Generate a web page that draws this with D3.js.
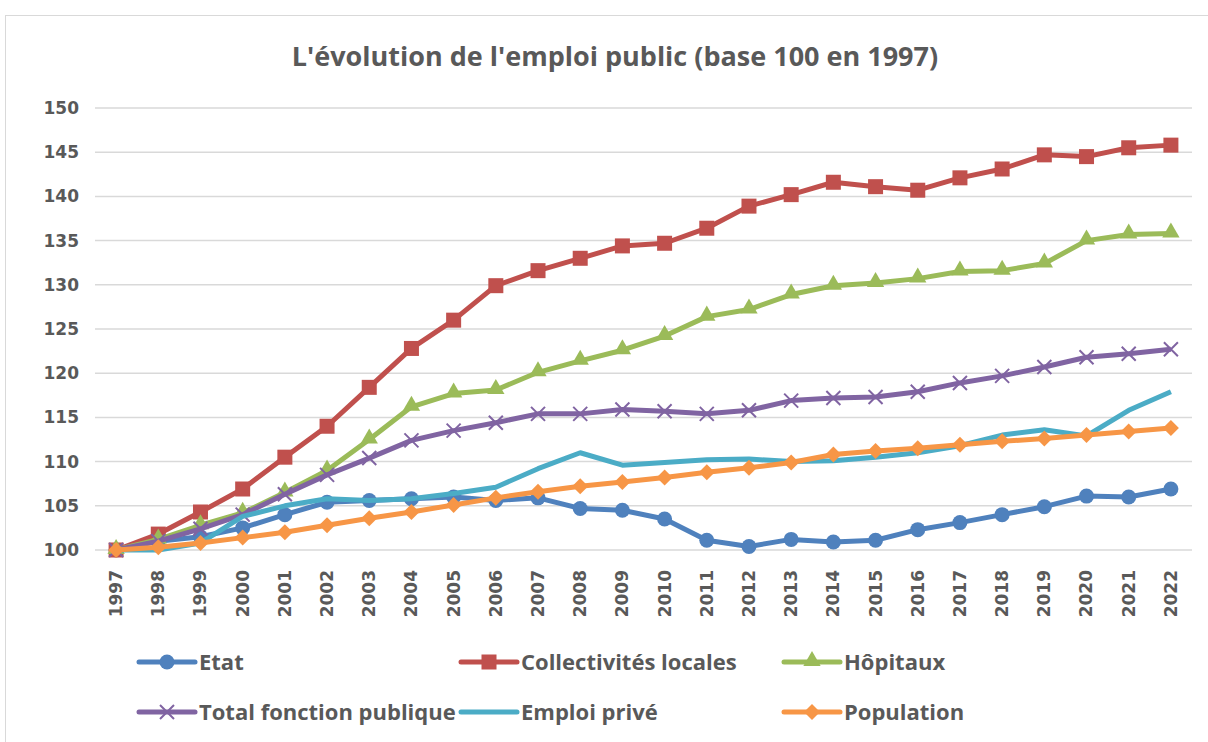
<!DOCTYPE html>
<html>
<head>
<meta charset="utf-8">
<script src="https://cdn.jsdelivr.net/npm/d3@7"></script>
<style>
  body { margin: 0; background: #fff; }
  svg { display: block; }
</style>
</head>
<body>
<div id="graf"></div>
<script>
var annees = ["1997","1998","1999","2000","2001","2002","2003","2004","2005","2006","2007","2008","2009","2010","2011","2012","2013","2014","2015","2016","2017","2018","2019","2020","2021","2022"];

var etat = [100,101.0,101.5,102.5,104.0,105.4,105.6,105.8,106.0,105.6,105.9,104.7,104.5,103.5,101.1,100.4,101.2,100.9,101.1,102.3,103.1,104.0,104.9,106.1,106.0,106.9];
var collectivites = [100,101.8,104.3,106.9,110.5,114.0,118.4,122.8,126.0,129.9,131.6,133.0,134.4,134.7,136.4,138.9,140.2,141.6,141.1,140.7,142.1,143.1,144.7,144.5,145.5,145.8];
var hopitaux = [100,101.2,102.8,104.2,106.5,109.0,112.5,116.2,117.7,118.1,120.1,121.4,122.6,124.2,126.4,127.2,128.9,129.9,130.2,130.7,131.5,131.6,132.4,135.0,135.7,135.8];
var total_fp = [100,101.0,102.4,104.0,106.3,108.5,110.4,112.4,113.5,114.4,115.4,115.4,115.9,115.7,115.4,115.8,116.9,117.2,117.3,117.9,118.9,119.7,120.7,121.8,122.2,122.7];
var emploi_prive = [100,100.0,100.8,103.8,105.0,105.8,105.6,105.8,106.4,107.1,109.2,111.0,109.6,109.9,110.2,110.3,110.0,110.1,110.5,111.0,111.8,113.0,113.6,112.9,115.8,117.9];
var population = [100,100.3,100.8,101.4,102.0,102.8,103.6,104.3,105.1,105.9,106.6,107.2,107.7,108.2,108.8,109.3,109.9,110.8,111.2,111.5,111.9,112.3,112.6,113.0,113.4,113.8];

var ticks_y = [100,105,110,115,120,125,130,135,140,145,150];

var series = [
    {nom: "Etat", valeurs: etat, cor: "#4F81BD", marca: "circle"},
    {nom: "Collectivités locales", valeurs: collectivites, cor: "#C0504D", marca: "square"},
    {nom: "Hôpitaux", valeurs: hopitaux, cor: "#9BBB59", marca: "triangle"},
    {nom: "Total fonction publique", valeurs: total_fp, cor: "#8064A2", marca: "cross"},
    {nom: "Emploi privé", valeurs: emploi_prive, cor: "#4BACC6", marca: "none"},
    {nom: "Population", valeurs: population, cor: "#F79646", marca: "diamond"}
];

var largura = 1208, altura = 742;
var fonte_eixo = "'DejaVu Sans', sans-serif";
var fonte_texto = "'Open Sans', sans-serif";

var svg = d3.select("#graf").append("svg")
    .attr("width", largura)
    .attr("height", altura);

// moldura
svg.append("rect")
    .attr("x", 5.5).attr("y", 15.5)
    .attr("width", 1210).attr("height", 740)
    .attr("fill", "#fff")
    .attr("stroke", "#d9d9d9");

svg.append("text")
    .text("L'évolution de l'emploi public (base 100 en 1997)")
    .attr("x", 615).attr("y", 66)
    .attr("text-anchor", "middle")
    .style("font-family", fonte_texto)
    .style("font-weight", "bold")
    .style("font-size", "27px")
    .style("fill", "#595959");

var x = d3.scaleBand().domain(annees).range([95, 1192]);
var y = d3.scaleLinear().domain([100, 150]).range([550, 108]);

// grade
svg.append("g").selectAll("line")
    .data(ticks_y)
    .enter().append("line")
    .attr("x1", 95).attr("x2", 1192)
    .attr("y1", function(d){ return y(d); })
    .attr("y2", function(d){ return y(d); })
    .attr("stroke", "#d9d9d9")
    .attr("stroke-width", 1.5);

var eixoY = svg.append("g")
    .attr("transform", "translate(95,0)")
    .call(d3.axisLeft(y).tickValues(ticks_y).tickSize(0).tickPadding(16));
eixoY.select(".domain").remove();
eixoY.selectAll("text")
    .style("font-family", fonte_eixo)
    .style("font-weight", "bold")
    .style("font-size", "17px")
    .style("fill", "#595959");

var eixoX = svg.append("g")
    .attr("transform", "translate(0,550)")
    .call(d3.axisBottom(x).tickSize(0));
eixoX.select(".domain").remove();
eixoX.selectAll("text")
    .attr("transform", "rotate(-90)")
    .attr("x", -20).attr("y", 0).attr("dy", "0.35em")
    .attr("text-anchor", "end")
    .style("font-family", fonte_eixo)
    .style("font-weight", "bold")
    .style("font-size", "17px")
    .style("fill", "#595959");

function cx(i) { return x(annees[i]) + x.bandwidth() / 2; }

function desenhaMarca(g, tipo, cor, px, py) {
    if (tipo == "circle") {
        g.append("circle").attr("cx", px).attr("cy", py).attr("r", 7.5).attr("fill", cor);
    } else if (tipo == "square") {
        g.append("rect").attr("x", px - 7.5).attr("y", py - 7.5).attr("width", 15).attr("height", 15).attr("fill", cor);
    } else if (tipo == "triangle") {
        g.append("path").attr("d", d3.symbol().type(d3.symbolTriangle).size(130)()).attr("transform", "translate(" + px + "," + (py - 1) + ")").attr("fill", cor);
    } else if (tipo == "diamond") {
        g.append("path").attr("d", "M0,-8L8,0L0,8L-8,0Z").attr("transform", "translate(" + px + "," + py + ")").attr("fill", cor);
    } else if (tipo == "cross") {
        g.append("path").attr("d", "M-7,-7L7,7M-7,7L7,-7").attr("transform", "translate(" + px + "," + py + ")")
            .attr("stroke", cor).attr("stroke-width", 2).attr("fill", "none");
    }
}

var linha = d3.line()
    .x(function(d, i){ return cx(i); })
    .y(function(d){ return y(d); });

series.forEach(function(s) {
    var g = svg.append("g");
    g.append("path")
        .datum(s.valeurs)
        .attr("d", linha)
        .attr("fill", "none")
        .attr("stroke", s.cor)
        .attr("stroke-width", 5)
        .attr("stroke-linejoin", "round");
    s.valeurs.forEach(function(v, i) {
        desenhaMarca(g, s.marca, s.cor, cx(i), y(v));
    });
});

// legenda
var posLegenda = [[139, 662], [461, 662], [784, 662], [139, 712], [461, 712], [784, 712]];
series.forEach(function(s, i) {
    var g = svg.append("g");
    var lx = posLegenda[i][0], ly = posLegenda[i][1];
    g.append("line")
        .attr("x1", lx).attr("x2", lx + 56)
        .attr("y1", ly).attr("y2", ly)
        .attr("stroke", s.cor).attr("stroke-width", 5)
        .attr("stroke-linecap", "round");
    desenhaMarca(g, s.marca, s.cor, lx + 28, ly);
    g.append("text")
        .text(s.nom)
        .attr("x", lx + 60).attr("y", ly).attr("dy", "0.36em")
        .style("font-family", fonte_texto)
        .style("font-weight", "bold")
        .style("font-size", "22px")
        .style("fill", "#595959");
});
</script>
</body>
</html>
